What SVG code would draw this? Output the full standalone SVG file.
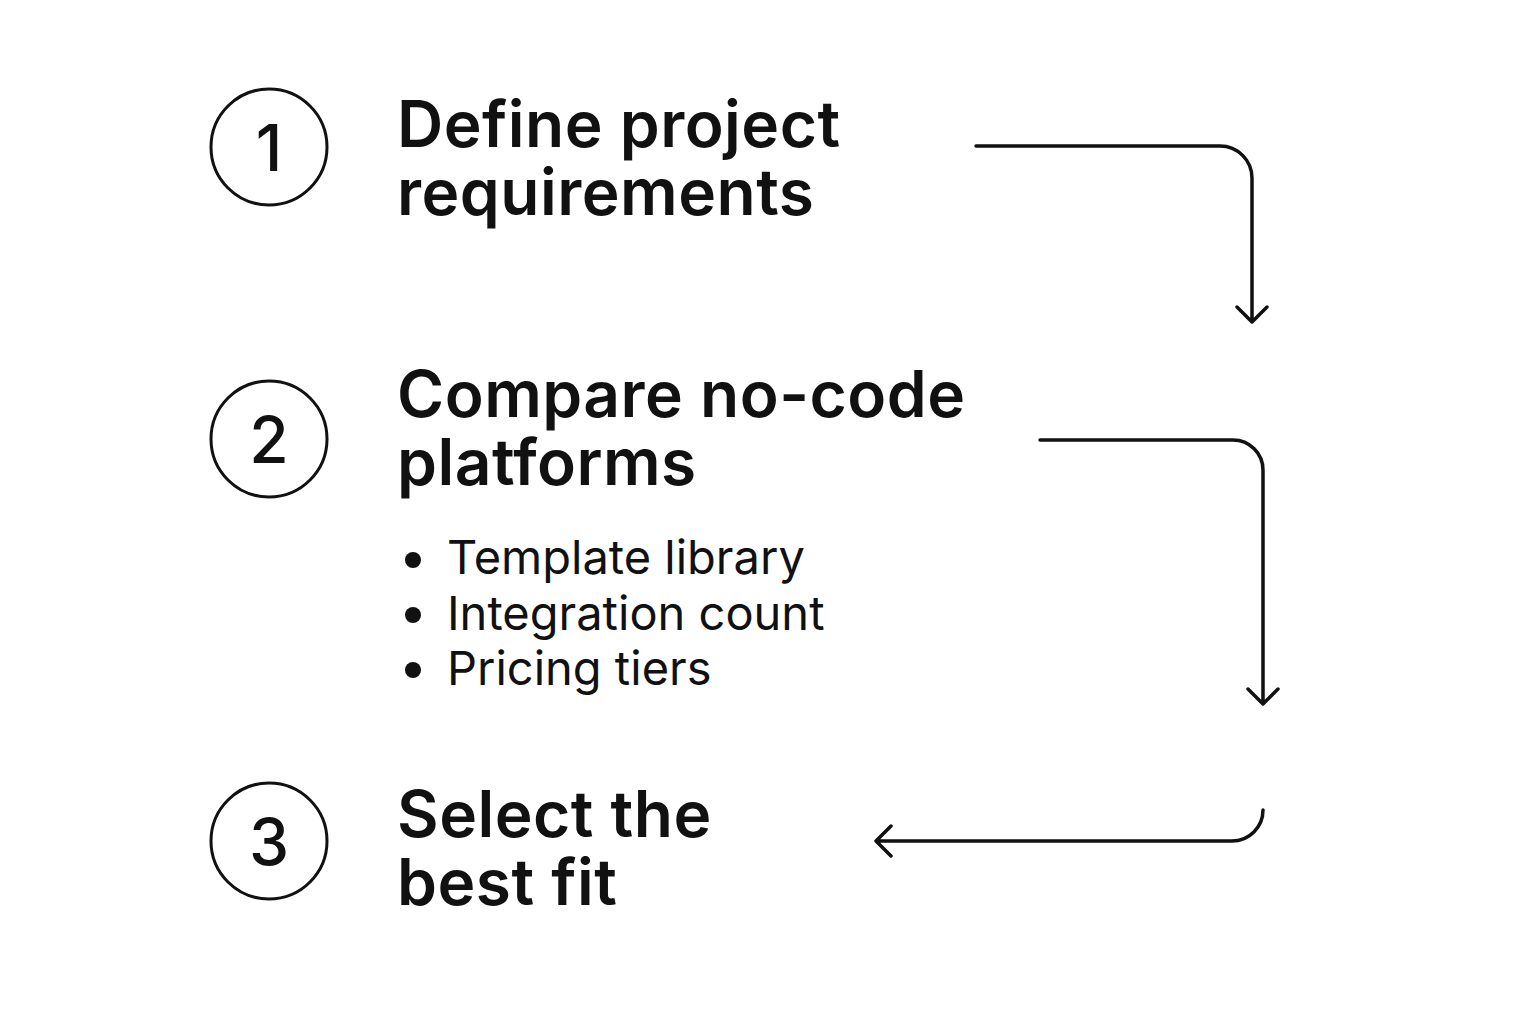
<svg xmlns="http://www.w3.org/2000/svg" width="1536" height="1024" viewBox="0 0 1536 1024">
<style>
.circ{fill:none;stroke:#111;stroke-width:3}
.num{font-family:Inter,"Noto Sans",sans-serif;font-size:64px;font-weight:500;fill:#111;text-anchor:middle}
.title{font-family:Inter,"Noto Sans",sans-serif;font-size:64px;font-weight:600;fill:#111;letter-spacing:0.5px}
.item{font-family:Inter,"Noto Sans",sans-serif;font-size:47px;fill:#111}
.conn{fill:none;stroke:#111;stroke-width:3.5;stroke-linecap:round;stroke-linejoin:round}
</style>
<rect width="1536" height="1024" fill="#fff"/>
<g id="step1">
<circle class="circ" cx="269" cy="147" r="58"/>
<text class="num" x="269" y="171">1</text>
<text class="title" x="397" y="147">Define project<tspan x="397" dy="68">requirements</tspan></text>
</g>
<g id="step2">
<circle class="circ" cx="269" cy="439" r="58"/>
<text class="num" x="269" y="463">2</text>
<text class="title" x="397" y="417">Compare no-code<tspan x="397" dy="68">platforms</tspan></text>
<circle cx="413" cy="560" r="8" fill="#111"/>
<circle cx="413" cy="615" r="8" fill="#111"/>
<circle cx="413" cy="670" r="8" fill="#111"/>
<text class="item" x="447" y="574">Template library<tspan x="447" dy="56">Integration count</tspan><tspan x="447" dy="55">Pricing tiers</tspan></text>
</g>
<g id="step3">
<circle class="circ" cx="269" cy="841" r="58"/>
<text class="num" x="269" y="865">3</text>
<text class="title" x="397" y="837">Select the<tspan x="397" dy="68">best fit</tspan></text>
</g>
<g id="connectors">
<path class="conn" d="M976,146 H1220 A32,32 0 0 1 1252,178 V322 M1237,307 L1252,322 L1267,307"/>
<path class="conn" d="M1040,440 H1233 A30,30 0 0 1 1263,470 V704 M1248,689 L1263,704 L1278,689"/>
<path class="conn" d="M1263,810 A31,31 0 0 1 1232,841 H876 M891,826 L876,841 L891,856"/>
</g>
</svg>
